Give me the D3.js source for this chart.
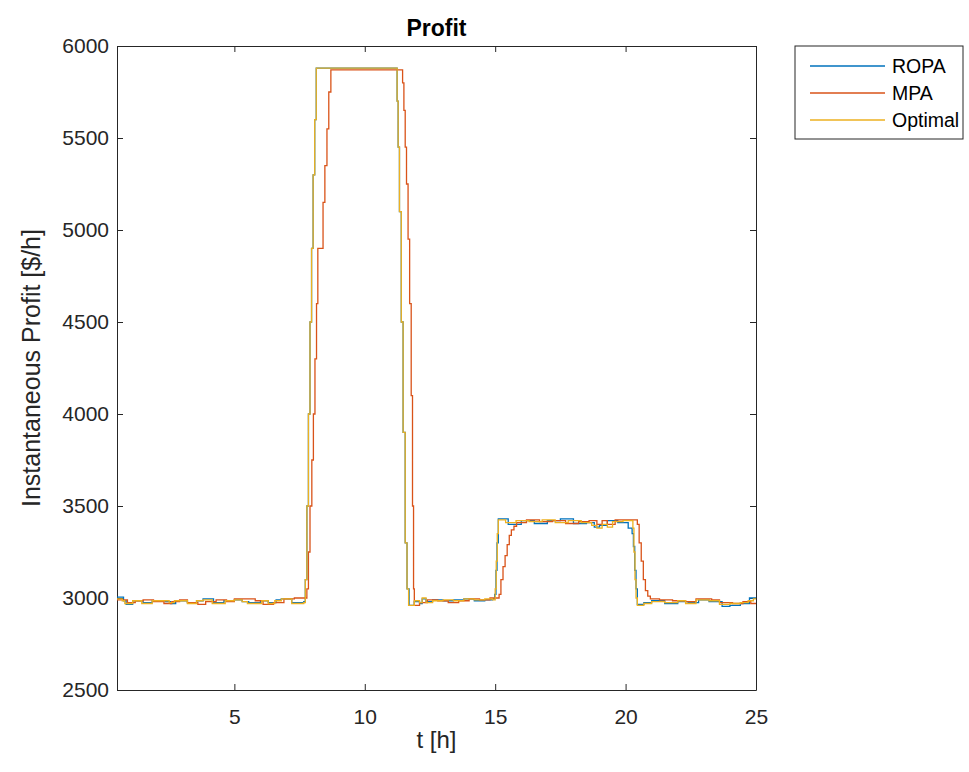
<!DOCTYPE html>
<html>
<head>
<meta charset="utf-8">
<script src="https://cdn.jsdelivr.net/npm/d3@7"></script>
<style>
  html, body { margin: 0; padding: 0; background: #fff; }
  svg { display: block; font-family: "Liberation Sans", Arial, Helvetica, sans-serif; }
</style>
</head>
<body>
<svg id="chart" width="969" height="772"></svg>
<script>
// Time stamps [h] and instantaneous profit [$/h] for each strategy (zero-order hold samples)
const optimalT = [0.5,0.7,0.8,1.1,1.45,1.85,2.3,2.5,2.7,3.2,3.55,3.8,4.15,4.65,5.0,5.3,5.5,6.05,6.3,6.55,6.8,7.2,7.66,
  7.72,7.78,7.84,7.90,7.96,8.02,8.08,8.14,
  11.24,11.28,11.33,11.40,11.47,11.55,11.62,11.68,
  11.9,12.1,12.2,12.35,12.6,13.0,13.4,13.8,14.2,14.6,14.9,
  15.0,15.04,15.08,15.12,15.4,15.8,16.3,16.8,17.3,17.8,18.3,18.7,18.9,19.1,19.3,19.5,19.9,
  20.28,20.32,20.36,20.40,20.45,20.7,21.0,21.5,22.0,22.3,22.7,23.2,23.6,24.0,24.4,24.7,24.9,25];
const optimalV = [2995,2985,2970,2985,2970,2985,2985,2975,2985,2970,2985,2990,2970,2985,2990,2980,2970,2985,2970,2985,2995,2970,2975,
  3100,3500,4000,4500,4900,5300,5600,5880,
  5700,5450,5100,4500,3900,3300,3050,2960,
  2985,2975,3000,2975,2985,2990,2985,2995,2990,2995,2990,
  3050,3200,3350,3425,3410,3420,3415,3425,3410,3420,3410,3395,3380,3400,3385,3415,3420,
  3380,3250,3100,3000,2960,2970,2980,2975,2985,2970,2990,2985,2965,2970,2975,2985,2995,2995];

const mpaT = [0.5,0.9,1.2,1.5,1.9,2.3,2.6,2.9,3.2,3.6,3.9,4.3,4.7,5.0,5.4,5.8,6.1,6.5,6.9,7.3,
  7.78,7.84,7.90,7.97,8.03,8.09,8.15,8.20,8.40,8.47,8.55,8.62,8.70,
  11.45,11.50,11.55,11.60,11.66,11.72,11.78,11.83,11.87,11.90,
  12.1,12.4,12.8,13.2,13.6,14.0,14.4,14.8,
  15.15,15.22,15.30,15.38,15.46,15.54,15.62,15.72,15.82,16.2,16.7,17.2,17.7,18.2,18.6,18.9,19.1,19.3,19.6,20.0,
  20.45,20.52,20.60,20.68,20.76,20.85,20.95,21.3,21.8,22.3,22.7,23.3,23.6,24.1,24.5,24.8,25];
const mpaV = [2990,2975,2985,2990,2980,2970,2980,2990,2975,2965,2980,2990,2980,2995,2995,2985,2965,2975,2995,3000,
  3050,3250,3500,3750,4000,4300,4600,4900,5150,5350,5550,5750,5870,
  5800,5650,5450,5250,4950,4600,4100,3500,3050,2960,
  2975,2990,2985,2975,2985,2995,2990,3000,
  3020,3100,3170,3230,3290,3340,3370,3390,3410,3425,3415,3420,3405,3415,3420,3400,3420,3400,3425,3425,
  3400,3300,3200,3100,3040,3010,2995,2990,2985,2980,2995,2990,2975,2970,2980,2970,2970];

const ropaT = [0.5,0.75,0.85,1.1,1.5,1.85,2.35,2.55,2.75,3.2,3.55,3.8,4.2,4.6,5.0,5.3,5.55,6.0,6.3,6.6,6.8,7.2,7.66,
  7.72,7.78,7.84,7.90,7.96,8.02,8.08,8.14,
  11.24,11.28,11.33,11.40,11.47,11.55,11.62,11.70,
  11.9,12.1,12.2,12.35,12.6,13.0,13.4,13.8,14.2,14.6,14.9,
  14.98,15.03,15.07,15.12,15.5,16.0,16.5,17.0,17.5,18.0,18.5,18.8,19.0,19.3,19.7,20.1,
  20.25,20.30,20.35,20.40,20.45,20.7,21.0,21.5,22.0,22.4,22.8,23.2,23.7,24.0,24.4,24.75,25];
const ropaV = [3005,2985,2965,2985,2975,2985,2980,2970,2985,2975,2985,2995,2975,2985,2990,2980,2975,2985,2975,2990,2995,2975,2980,
  3100,3500,4000,4500,4900,5300,5600,5880,
  5700,5450,5100,4500,3900,3300,3050,2960,
  2980,2970,2995,2980,2990,2985,2990,2995,2985,2990,2995,
  3020,3150,3300,3430,3400,3420,3405,3420,3430,3405,3410,3385,3395,3420,3410,3380,
  3350,3280,3150,3050,2965,2975,2985,2970,2980,2975,2990,2980,2955,2960,2970,3000,3000];

const seriesNames = ["ROPA", "MPA", "Optimal"];
const seriesColors = ["#0072BD", "#D95319", "#EDB120"];
const xTicks = [5, 10, 15, 20, 25];
const yTicks = [2500, 3000, 3500, 4000, 4500, 5000, 5500, 6000];

const series = [
  { name: seriesNames[0], color: seriesColors[0], t: ropaT, v: ropaV },
  { name: seriesNames[1], color: seriesColors[1], t: mpaT, v: mpaV },
  { name: seriesNames[2], color: seriesColors[2], t: optimalT, v: optimalV }
];

const svg = d3.select("#chart");
const plot = { left: 117, right: 756, top: 46, bottom: 690 };
const axisColor = "#262626";

const x = d3.scaleLinear().domain([0.5, 25]).range([plot.left, plot.right]);
const y = d3.scaleLinear().domain([2500, 6000]).range([plot.bottom, plot.top]);

// Axes: ticks point inward, mirrored on the top and right edges
const tickLen = 6;
svg.append("g").attr("transform", `translate(0,${plot.bottom})`)
  .call(d3.axisBottom(x).tickValues(xTicks).tickSizeInner(-tickLen).tickSizeOuter(0).tickPadding(19))
  .call(g => g.selectAll("text").attr("font-size", 21).attr("fill", axisColor))
  .call(g => g.selectAll("line,path").attr("stroke", axisColor));
svg.append("g").attr("transform", `translate(0,${plot.top})`)
  .call(d3.axisTop(x).tickValues(xTicks).tickSizeInner(-tickLen).tickSizeOuter(0).tickFormat(""))
  .call(g => g.selectAll("line,path").attr("stroke", axisColor));
svg.append("g").attr("transform", `translate(${plot.left},0)`)
  .call(d3.axisLeft(y).tickValues(yTicks).tickSizeInner(-tickLen).tickSizeOuter(0).tickPadding(8).tickFormat(d3.format("d")))
  .call(g => g.selectAll("text").attr("font-size", 21).attr("fill", axisColor))
  .call(g => g.selectAll("line,path").attr("stroke", axisColor));
svg.append("g").attr("transform", `translate(${plot.right},0)`)
  .call(d3.axisRight(y).tickValues(yTicks).tickSizeInner(-tickLen).tickSizeOuter(0).tickFormat(""))
  .call(g => g.selectAll("line,path").attr("stroke", axisColor));

// Profit traces
const line = d3.line().curve(d3.curveStepAfter).x(d => x(d[0])).y(d => y(d[1]));
svg.append("g").selectAll("path").data(series).join("path")
  .attr("d", s => line(s.t.map((t, i) => [t, s.v[i]])))
  .attr("fill", "none")
  .attr("stroke", s => s.color)
  .attr("stroke-width", 1.3);

// Title and axis labels
svg.append("text").attr("x", (plot.left + plot.right) / 2).attr("y", 36)
  .attr("text-anchor", "middle").attr("font-size", 23).attr("font-weight", "bold").attr("fill", "#000")
  .text("Profit");
svg.append("text").attr("x", (plot.left + plot.right) / 2).attr("y", 748)
  .attr("text-anchor", "middle").attr("font-size", 24).attr("fill", axisColor)
  .text("t [h]");
svg.append("text").attr("transform", `translate(40,${(plot.top + plot.bottom) / 2}) rotate(-90)`)
  .attr("text-anchor", "middle").attr("font-size", 25).attr("fill", axisColor)
  .text("Instantaneous Profit [$/h]");

// Legend
const lg = svg.append("g").attr("transform", "translate(795,46)");
lg.append("rect").attr("width", 168).attr("height", 93)
  .attr("fill", "#fff").attr("stroke", axisColor).attr("stroke-width", 1);
series.forEach((s, i) => {
  const yy = 20 + i * 27;
  lg.append("line").attr("x1", 15).attr("x2", 90).attr("y1", yy).attr("y2", yy)
    .attr("stroke", s.color).attr("stroke-width", 1.3);
  lg.append("text").attr("x", 97).attr("y", yy).attr("dy", "0.35em")
    .attr("font-size", 19.5).attr("fill", "#000").text(s.name);
});
</script>
</body>
</html>
